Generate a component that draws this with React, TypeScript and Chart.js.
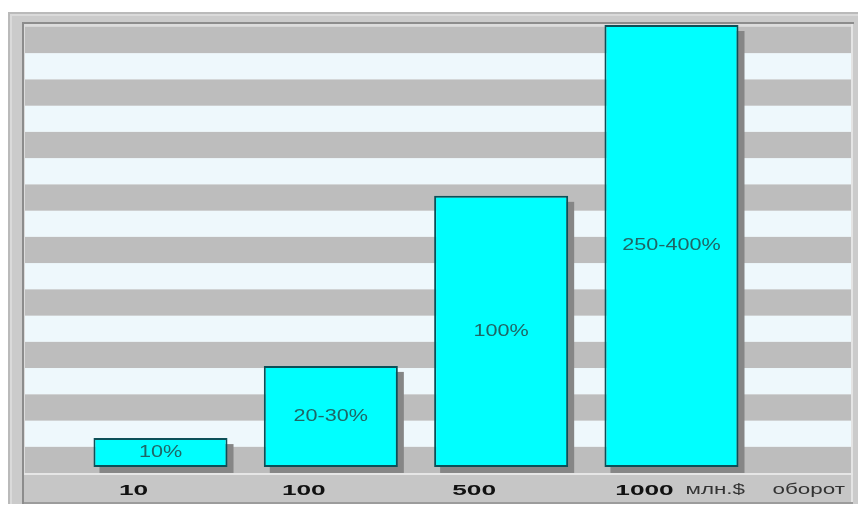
import React, { useEffect, useRef } from 'react';
import { Chart, registerables } from 'chart.js';

Chart.register(...registerables);

// ---- data ----
const TICK_LABELS = ['10', '100', '500', '1000'];
const BAR_POSITIONS = [1, 2, 3, 4];
const BAR_HEIGHTS = [1.1, 3.85, 10.33, 16.84];
const BAR_LABELS = ['10%', '20-30%', '100%', '250-400%'];
const UNIT_LABEL = 'млн.$';
const AXIS_TITLE = 'оборот';

const Y_MIN = -0.23;
const Y_MAX = 16.84;
const X_MIN = 0.2045;
const X_MAX = 5.054;
const STRIPE_COUNT = 17;

const framePlugin = {
  id: 'frame',
  beforeDraw(chart: any) {
    const { ctx, chartArea: a, width, height } = chart;
    const y = chart.scales.y;
    ctx.save();
    ctx.fillStyle = '#ffffff';
    ctx.fillRect(0, 0, width, height);
    // outer panel
    ctx.fillStyle = '#cbcbcb';
    ctx.fillRect(8, 12, width - 10, height - 16);
    ctx.fillStyle = '#bababa';
    ctx.fillRect(8, 12, width - 10, 2);
    ctx.fillRect(8, 12, 2, height - 16);
    ctx.fillStyle = '#dadada';
    ctx.fillRect(10, 14, width - 12, 2);
    ctx.fillRect(10, 14, 2, height - 18);
    // inner dark frame
    ctx.fillStyle = '#8c8c8c';
    ctx.fillRect(a.left - 3, a.top - 3, a.width + 6, 2);
    ctx.fillRect(a.left - 3, a.top - 3, 2, a.height + 34);
    // plot background
    ctx.fillStyle = '#dcdcdc';
    ctx.fillRect(a.left - 1, a.top - 1, a.width + 2, a.height + 1);
    // stripes
    for (let k = 0; k < STRIPE_COUNT; k++) {
      const bottom = y.getPixelForValue(Y_MIN + k);
      const top = y.getPixelForValue(Y_MIN + k + 1);
      ctx.fillStyle = k % 2 === 0 ? '#bdbdbd' : '#eef8fc';
      ctx.fillRect(a.left, top, a.width, bottom - top);
    }
    // right light edge
    ctx.fillStyle = '#e4e4e4';
    ctx.fillRect(a.right, a.top - 1, 2, a.height + 31);
    // axis band
    ctx.fillStyle = '#e6e6e6';
    ctx.fillRect(a.left - 1, a.bottom, a.width + 3, 2);
    ctx.fillStyle = '#c6c6c6';
    ctx.fillRect(a.left - 1, a.bottom + 2, a.width + 1, 27);
    ctx.fillStyle = '#9c9c9c';
    ctx.fillRect(a.left - 1, a.bottom + 29, a.width + 3, 2);
    ctx.restore();
  },
  beforeDatasetsDraw(chart: any) {
    const { ctx } = chart;
    const meta = chart.getDatasetMeta(0);
    ctx.save();
    ctx.fillStyle = '#868686';
    meta.data.forEach((el: any) => {
      const { x, y, base, width } = el.getProps(['x', 'y', 'base', 'width'], true);
      ctx.fillRect(x - width / 2 + 6, y + 6, width, base - y);
    });
    ctx.restore();
  },
  afterDatasetsDraw(chart: any) {
    const { ctx, chartArea: a } = chart;
    const xs = chart.scales.x;
    const meta = chart.getDatasetMeta(0);
    ctx.save();
    // labels inside bars
    ctx.font = '16px "Liberation Sans", Arial, sans-serif';
    ctx.fillStyle = '#1f6666';
    ctx.textAlign = 'center';
    ctx.textBaseline = 'middle';
    meta.data.forEach((el: any, i: number) => {
      const { x, y, base } = el.getProps(['x', 'y', 'base'], true);
      ctx.save();
      ctx.translate(x, (y + base) / 2);
      ctx.scale(1.35, 1);
      ctx.fillText(BAR_LABELS[i], 0, 0);
      ctx.restore();
    });
    // x tick labels
    ctx.font = 'bold 15px "Liberation Sans", Arial, sans-serif';
    ctx.fillStyle = '#111111';
    ctx.textBaseline = 'alphabetic';
    BAR_POSITIONS.forEach((p, i) => {
      ctx.save();
      ctx.translate(xs.getPixelForValue(p) - 27, a.bottom + 22);
      ctx.scale(1.75, 1);
      ctx.fillText(TICK_LABELS[i], 0, 0);
      ctx.restore();
    });
    // unit / axis title
    ctx.font = '14px "Liberation Sans", Arial, sans-serif';
    ctx.fillStyle = '#333333';
    ctx.textAlign = 'right';
    ctx.save();
    ctx.translate(a.right - 6, a.bottom + 21);
    ctx.scale(1.6, 1);
    ctx.fillText(AXIS_TITLE, 0, 0);
    ctx.restore();
    ctx.save();
    ctx.translate(a.right - 106, a.bottom + 21);
    ctx.scale(1.6, 1);
    ctx.fillText(UNIT_LABEL, 0, 0);
    ctx.restore();
    ctx.restore();
  },
};

export default function App() {
  const ref = useRef<HTMLCanvasElement>(null);
  useEffect(() => {
    if (!ref.current) return;
    const chart = new Chart(ref.current, {
      type: 'bar',
      data: {
        datasets: [
          {
            data: BAR_POSITIONS.map((x, i) => ({ x, y: BAR_HEIGHTS[i] })),
            backgroundColor: '#00ffff',
            borderColor: '#0c5058',
            borderWidth: 2,
            borderSkipped: false,
            categoryPercentage: 1,
            barPercentage: 0.787,
          },
        ],
      },
      options: {
        animation: false,
        responsive: false,
        devicePixelRatio: 1,
        layout: { padding: { left: 25, top: 25, right: 9, bottom: 35 } },
        plugins: { legend: { display: false }, tooltip: { enabled: false } },
        scales: {
          x: {
            type: 'linear',
            min: X_MIN,
            max: X_MAX,
            offset: false,
            display: false,
            afterBuildTicks: (s: any) => {
              s.ticks = BAR_POSITIONS.map((v) => ({ value: v }));
            },
          },
          y: { type: 'linear', min: Y_MIN, max: Y_MAX, display: false },
        },
      },
      plugins: [framePlugin],
    });
    return () => chart.destroy();
  }, []);
  return (
    <div style={{ position: 'absolute', left: 0, top: 0, width: 860, height: 508, background: '#fff' }}>
      <canvas ref={ref} width={860} height={508} style={{ display: 'block', width: 860, height: 508 }} />
    </div>
  );
}
